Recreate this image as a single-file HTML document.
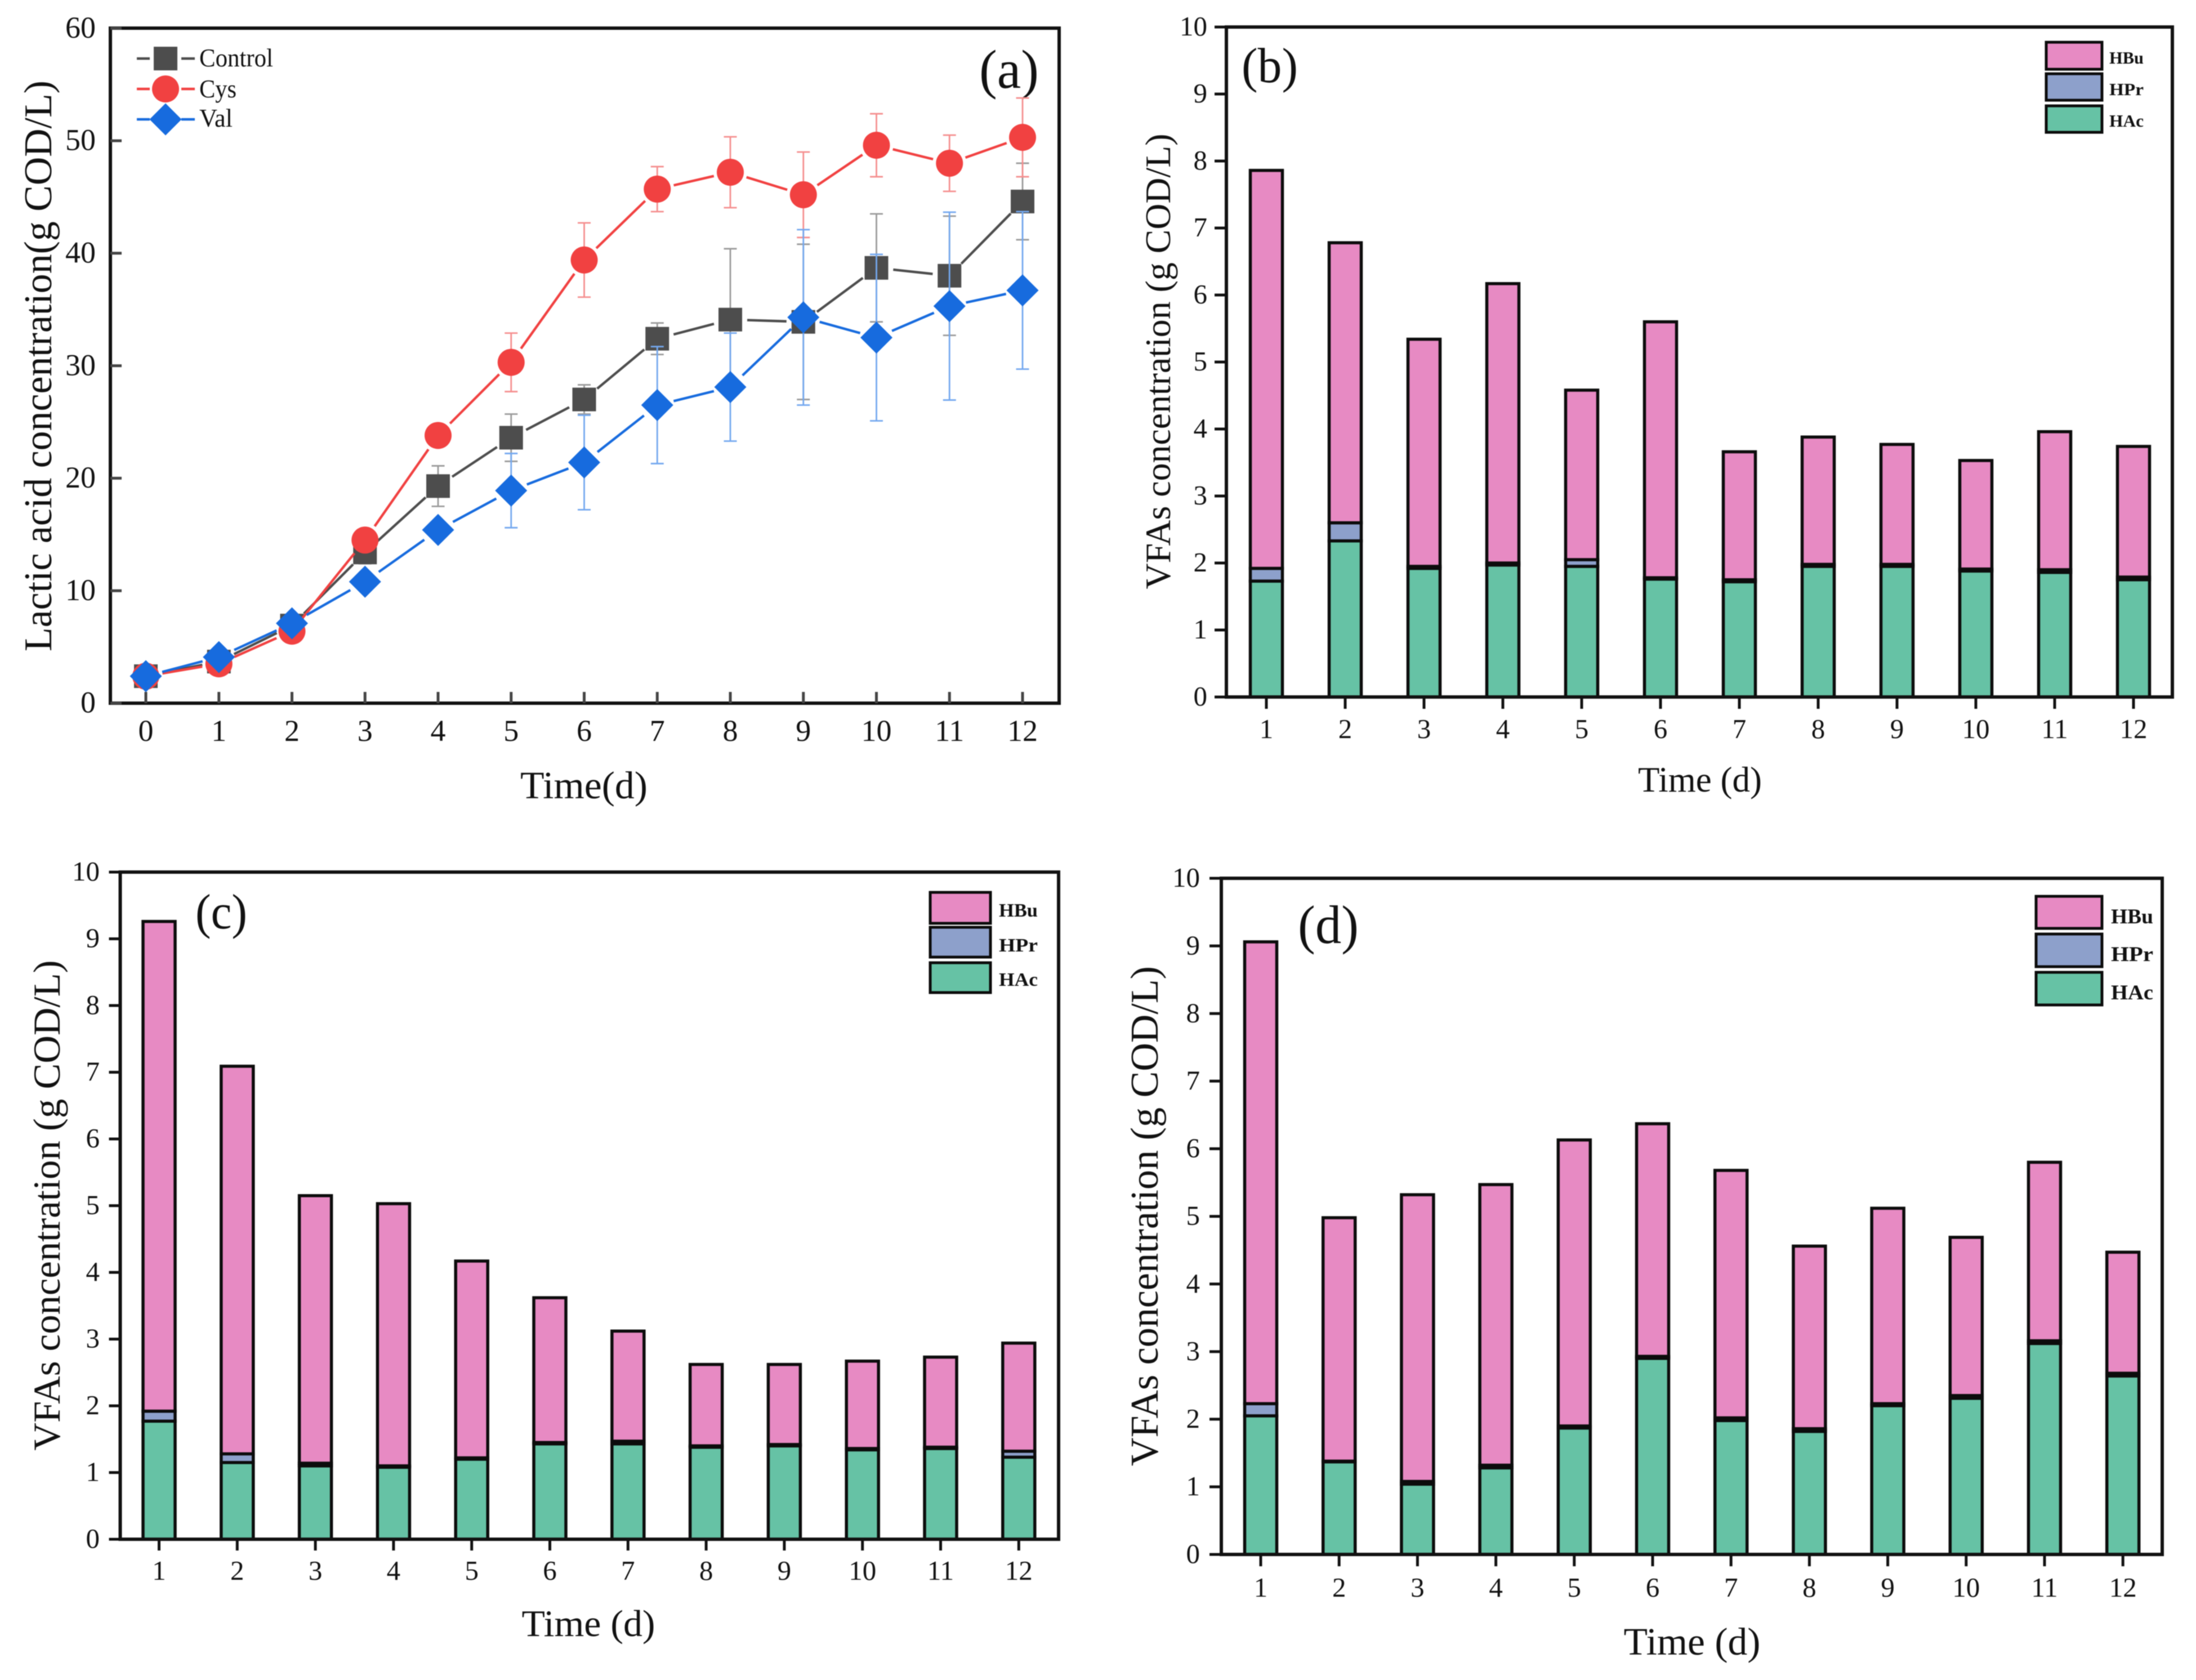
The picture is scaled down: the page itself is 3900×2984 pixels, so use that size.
<!DOCTYPE html>
<html lang="en">
<head>
<meta charset="utf-8">
<title>Lactic acid and VFA concentrations over time</title>
<style>
html,body{margin:0;padding:0;background:#fff;}
#figure{display:block;width:3900px;height:2984px;background:#fff;filter:blur(0.9px);}
text{font-family:"Liberation Serif",serif;fill:#111;}
</style>
</head>
<body>
<svg id="figure" xmlns="http://www.w3.org/2000/svg" width="3900" height="2984" viewBox="0 0 3900 2984"></svg>
<script>
// ---------- data: panel (a) ----------
const daysA = [0,1,2,3,4,5,6,7,8,9,10,11,12];
const yTicksA = [0,10,20,30,40,50,60];
const controlValues = [2.4,3.7,6.9,13.4,19.3,23.6,27.0,32.4,34.1,33.9,38.7,38.0,44.6];
const cysValues = [2.4,3.5,6.4,14.5,23.8,30.3,39.4,45.7,47.2,45.2,49.6,48.0,50.3];
const valValues = [2.4,4.1,7.1,10.8,15.4,18.9,21.4,26.5,28.1,34.3,32.5,35.3,36.7];
const controlErrors = [0.3,0.2,0.3,1.0,1.8,2.1,1.3,1.4,6.3,6.9,4.8,5.3,3.4];
const cysErrors = [0.3,0.2,0.3,0.5,0.5,2.6,3.3,2.0,3.15,3.8,2.8,2.5,3.5];
const valErrors = [0.3,0.3,0.4,0.5,0.6,3.3,4.2,5.2,4.8,7.8,7.4,8.35,7.0];

// ---------- data: stacked bar panels ----------
const barDays = [1,2,3,4,5,6,7,8,9,10,11,12];
const yTicksBars = [0,1,2,3,4,5,6,7,8,9,10];
const hacB = [1.73,2.33,1.92,1.97,1.95,1.76,1.72,1.95,1.95,1.88,1.86,1.75];
const hprB = [0.19,0.27,0.03,0.03,0.10,0.02,0.03,0.03,0.03,0.03,0.04,0.04];
const hbuB = [5.94,4.18,3.39,4.17,2.53,3.82,1.91,1.90,1.79,1.62,2.06,1.95];
const hacC = [1.77,1.15,1.10,1.08,1.20,1.43,1.43,1.38,1.40,1.34,1.36,1.23];
const hprC = [0.15,0.13,0.04,0.02,0.02,0.02,0.04,0.02,0.02,0.02,0.02,0.09];
const hbuC = [7.34,5.81,4.01,3.93,2.95,2.17,1.65,1.22,1.20,1.31,1.35,1.62];
const hacD = [2.05,1.37,1.04,1.28,1.87,2.90,1.98,1.82,2.20,2.31,3.12,2.64];
const hprD = [0.18,0.01,0.04,0.04,0.03,0.03,0.04,0.04,0.03,0.04,0.04,0.04];
const hbuD = [6.83,3.60,4.24,4.15,4.23,3.44,3.66,2.70,2.89,2.34,2.64,1.79];

const svg = document.getElementById('figure');
const NS = 'http://www.w3.org/2000/svg';

function make(parent, tag, attrs, content) {
  const el = document.createElementNS(NS, tag);
  for (const k in attrs) el.setAttribute(k, attrs[k]);
  if (content !== undefined) el.textContent = content;
  parent.appendChild(el);
  return el;
}
function group(name) {
  const g = make(svg, 'g', {});
  
  
  return g;
}

function drawAxes(g, cfg, xTicks, yTicks, xFn, yFn) {
  const frame = make(g, 'rect', {x:cfg.left, y:cfg.top, width:cfg.right-cfg.left, height:cfg.bottom-cfg.top, fill:'none', stroke:'#111', 'stroke-width':cfg.axisW});
  
  
  const dir = cfg.inward ? 1 : -1;
  yTicks.forEach(v => {
    const y = yFn(v);
    const tick = make(g, 'line', {x1:cfg.left, x2:cfg.left + dir*cfg.tickLen, y1:y, y2:y, stroke:cfg.tickColor, 'stroke-width':cfg.tickW});
    
    
    const label = make(g, 'text', {x:cfg.yLabelX, y:y + cfg.tickFont*0.31, 'text-anchor':'end', 'font-size':cfg.tickFont}, String(v));
    
    
  });
  xTicks.forEach(v => {
    const x = xFn(v);
    const tick = make(g, 'line', {x1:x, x2:x, y1:cfg.bottom, y2:cfg.bottom - dir*cfg.tickLen, stroke:cfg.tickColor, 'stroke-width':cfg.tickW});
    
    
    const label = make(g, 'text', {x:x, y:cfg.xLabelY, 'text-anchor':'middle', 'font-size':cfg.tickFont}, String(v));
    
    
  });
  const xt = make(g, 'text', {x:cfg.xTitle[0], y:cfg.xTitle[1], 'text-anchor':'middle', 'font-size':cfg.xTitle[2], textLength:cfg.xTitle[3], lengthAdjust:'spacingAndGlyphs'}, cfg.xTitleText);
  
  
  const yt = make(g, 'text', {x:0, y:0, transform:'translate('+cfg.yTitle[0]+' '+cfg.yTitle[1]+') rotate(-90)', 'text-anchor':'middle', 'font-size':cfg.yTitle[2], textLength:cfg.yTitle[3], lengthAdjust:'spacingAndGlyphs'}, cfg.yTitleText);
  
  
  const tag = make(g, 'text', {x:cfg.tag[0], y:cfg.tag[1], 'text-anchor':'middle', 'font-size':cfg.tag[2], textLength:cfg.tag[3], lengthAdjust:'spacingAndGlyphs'}, cfg.tagText);
  
  
}

// ---------- panel (a): line chart ----------
const cfgA = {left:196, right:1881, top:50, bottom:1249, axisW:6, tickLen:20, tickW:5, tickColor:'#444', inward:true,
  tickFont:54, yLabelX:170, xLabelY:1316,
  xTitle:[1037,1418,69,226], xTitleText:'Time(d)',
  yTitle:[91,650,70,1014], yTitleText:'Lactic acid concentration(g COD/L)',
  tag:[1792,156,98,106], tagText:'(a)'};
const xA = v => 259 + v*129.75;
const yA = v => 1249 - v*19.98;

const seriesA = [
  {name:'control', values:controlValues, errors:controlErrors, color:'#4d4d4d', errColor:'#9a9a9a'},
  {name:'cys', values:cysValues, errors:cysErrors, color:'#f14141', errColor:'#f58f8f'},
  {name:'val', values:valValues, errors:valErrors, color:'#176bde', errColor:'#74a8ef'}
];

function marker(g, name, cx, cy, color) {
  let m;
  if (name === 'control') m = make(g, 'rect', {x:cx-21, y:cy-21, width:42, height:42, fill:color});
  else if (name === 'cys') m = make(g, 'circle', {cx:cx, cy:cy, r:24, fill:color});
  else m = make(g, 'polygon', {points:[cx-28.5,cy, cx,cy-28.5, cx+28.5,cy, cx,cy+28.5].join(','), fill:color});
  return m;
}

const panelA = group('panel-a-lactic-acid-chart');
drawAxes(panelA, cfgA, daysA, yTicksA, xA, yA);
seriesA.forEach(s => {
  const g = make(panelA, 'g', {});
  
  
  daysA.forEach((d, i) => {
    const x = xA(d), hi = yA(s.values[i] + s.errors[i]), lo = yA(s.values[i] - s.errors[i]);
    const bar = make(g, 'path', {d:'M'+x+' '+hi+'V'+lo+'M'+(x-11.5)+' '+hi+'H'+(x+11.5)+'M'+(x-11.5)+' '+lo+'H'+(x+11.5), fill:'none', stroke:s.errColor, 'stroke-width':2.8});
    
    
  });
  for (let i = 0; i < daysA.length - 1; i++) {
    const x1 = xA(daysA[i]), y1 = yA(s.values[i]), x2 = xA(daysA[i+1]), y2 = yA(s.values[i+1]);
    const len = Math.hypot(x2-x1, y2-y1);
    if (len <= 60) continue;
    const ux = (x2-x1)/len, uy = (y2-y1)/len;
    const seg = make(g, 'line', {x1:x1+ux*30, y1:y1+uy*30, x2:x2-ux*30, y2:y2-uy*30, stroke:s.color, 'stroke-width':4.4});
    
    
  }
  daysA.forEach((d, i) => {
    const m = marker(g, s.name, xA(d), yA(s.values[i]), s.color);
    
    
  });
});

// panel (a) legend
const legendANames = ['Control','Cys','Val'];
const legendA = make(panelA, 'g', {});


[[104,118,131],[158,173,66],[212,225,59]].forEach((row, i) => {
  const s = seriesA[i];
  const entry = make(legendA, 'g', {});
  
  
  make(entry, 'path', {d:'M243 '+row[0]+'H266M322 '+row[0]+'H346', stroke:s.color, 'stroke-width':4.4, fill:'none'});
  marker(entry, s.name, 294, row[0], s.color);
  make(entry, 'text', {x:354, y:row[1], 'font-size':46, textLength:row[2], lengthAdjust:'spacingAndGlyphs'}, legendANames[i]);
});

// ---------- stacked bar panels ----------
const stackColors = {hac:'#66c2a5', hpr:'#8da0cb', hbu:'#e78ac3'};

function drawBarPanel(name, cfg, hac, hpr, hbu) {
  const g = group(name);
  const xFn = v => cfg.x1 + (v-1)*cfg.step;
  const yFn = v => cfg.bottom - v*(cfg.bottom-cfg.top)/10;
  barDays.forEach((d, i) => {
    const x = xFn(d) - 28.5;
    const layers = [['hac',0,hac[i]],['hpr',hac[i],hpr[i]],['hbu',hac[i]+hpr[i],hbu[i]]];
    layers.forEach(l => {
      const top = yFn(l[1]+l[2]), base = yFn(l[1]);
      const r = make(g, 'rect', {x:x, y:top, width:57, height:base-top, fill:stackColors[l[0]], stroke:'#0c0c0c', 'stroke-width':5.5});
      
      
    });
  });
  drawAxes(g, cfg, barDays, yTicksBars, xFn, yFn);
  const lg = make(g, 'g', {});
  
  
  const keys = ['hbu','hpr','hac'];
  const labels = ['HBu','HPr','HAc'];
  keys.forEach((k, i) => {
    const b = cfg.legendRows[i];
    const entry = make(lg, 'g', {});
    
    
    make(entry, 'rect', {x:cfg.legendX[0], y:b[0], width:cfg.legendX[1]-cfg.legendX[0], height:b[1]-b[0], fill:stackColors[k], stroke:'#0c0c0c', 'stroke-width':5});
    make(entry, 'text', {x:cfg.legendTextX, y:b[2], 'font-size':cfg.legendFont, 'font-weight':'bold', textLength:cfg.legendTextW, lengthAdjust:'spacingAndGlyphs'}, labels[i]);
  });
}

drawBarPanel('panel-b-vfa-chart', {
  left:2178, right:3858, top:48, bottom:1238, axisW:6, tickLen:21, tickW:5, tickColor:'#111', inward:false,
  tickFont:49, yLabelX:2144, xLabelY:1311, x1:2249, step:140,
  xTitle:[3019,1406,63,220], xTitleText:'Time (d)',
  yTitle:[2078,642,64,809], yTitleText:'VFAs concentration (g COD/L)',
  tag:[2255,146,88,100], tagText:'(b)',
  legendX:[3634,3733], legendRows:[[75,123,113],[131,178,169],[188,235,225]], legendTextX:3746, legendTextW:61, legendFont:31
}, hacB, hprB, hbuB);

drawBarPanel('panel-c-vfa-chart', {
  left:213.5, right:1880, top:1549, bottom:2734, axisW:6, tickLen:20, tickW:5, tickColor:'#111', inward:false,
  tickFont:49, yLabelX:177, xLabelY:2806, x1:282.5, step:138.8,
  xTitle:[1045,2906,67,237], xTitleText:'Time (d)',
  yTitle:[106,2141,68,871], yTitleText:'VFAs concentration (g COD/L)',
  tag:[393,1649,88,92], tagText:'(c)',
  legendX:[1652,1759], legendRows:[[1585,1640,1628],[1647,1700,1690],[1710,1763,1751]], legendTextX:1774, legendTextW:69, legendFont:34
}, hacC, hprC, hbuC);

drawBarPanel('panel-d-vfa-chart', {
  left:2169, right:3840, top:1560, bottom:2761, axisW:6, tickLen:21, tickW:5, tickColor:'#111', inward:false,
  tickFont:49, yLabelX:2131, xLabelY:2836, x1:2239, step:139.2,
  xTitle:[3005,2939,69,243], xTitleText:'Time (d)',
  yTitle:[2056,2160,70,888], yTitleText:'VFAs concentration (g COD/L)',
  tag:[2359,1675,96,108], tagText:'(d)',
  legendX:[3616,3733], legendRows:[[1592,1649,1640],[1659,1717,1707],[1727,1785,1775]], legendTextX:3749, legendTextW:75, legendFont:37
}, hacD, hprD, hbuD);
</script>
</body>
</html>
